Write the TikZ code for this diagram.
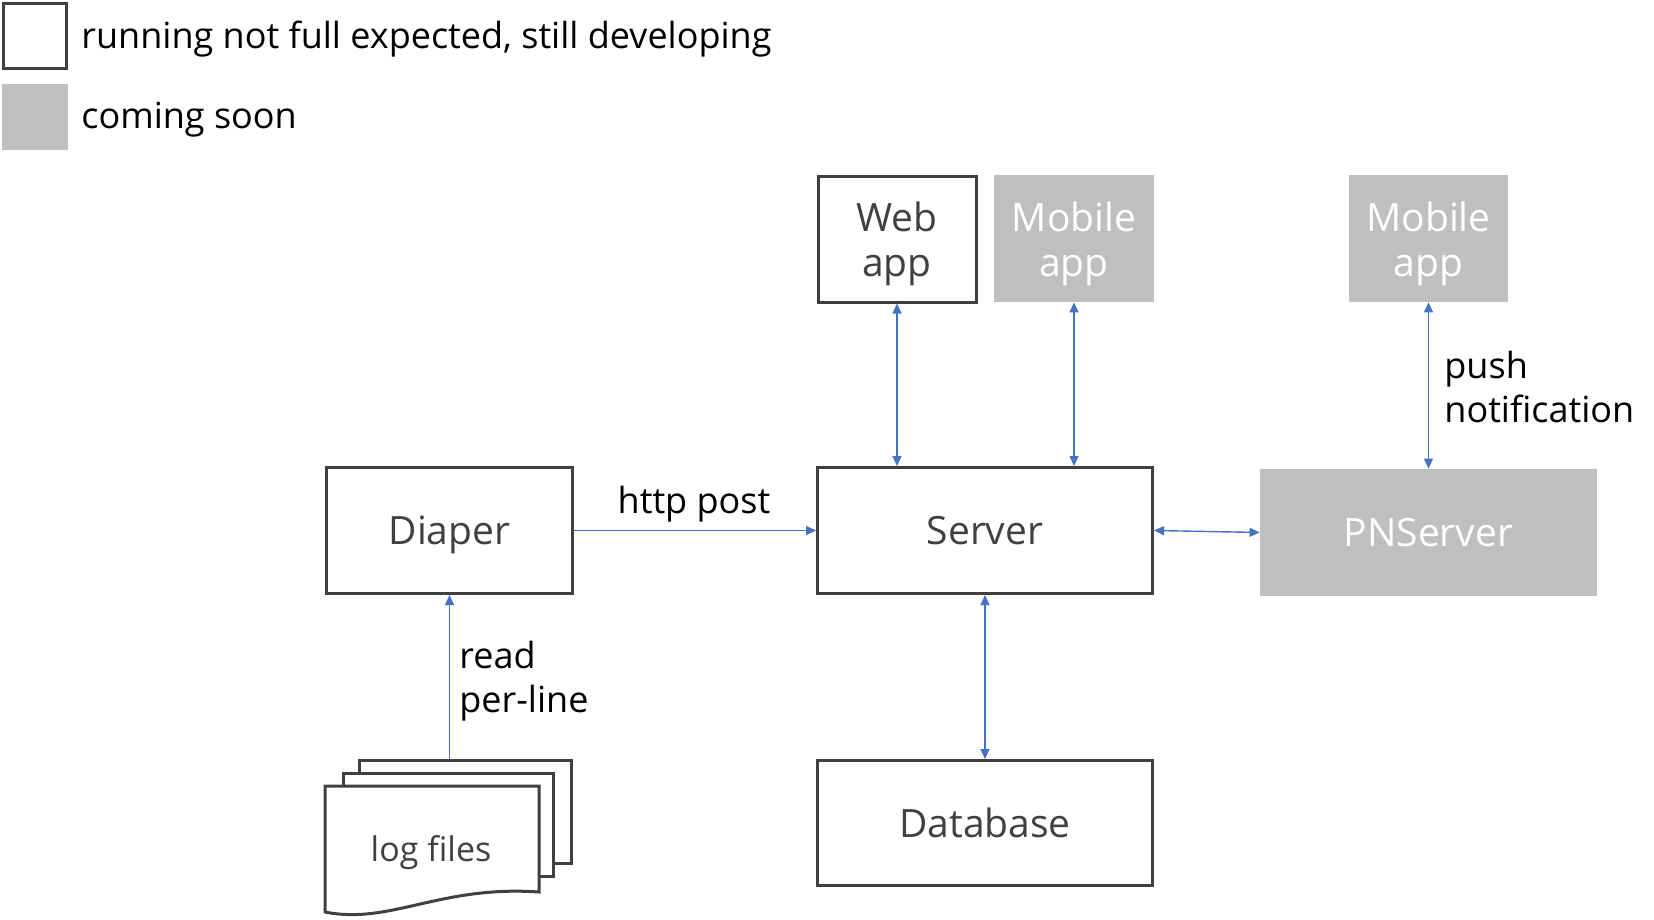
\documentclass[tikz,border=0pt]{standalone}
\usepackage{fontspec}
\setmainfont{Open Sans}
\usetikzlibrary{arrows.meta}
\definecolor{boxline}{HTML}{404040}
\definecolor{soongray}{HTML}{BFBFBF}
\definecolor{linkblue}{HTML}{4472C4}
\newcommand{\toplift}{\rule{0pt}{20pt}}
\tikzset{
  running/.style={draw=boxline, line width=1.5pt, fill=white, text=boxline,
    align=center, inner sep=0pt, font=\fontsize{19.5}{22.5}\selectfont},
  soon/.style={fill=soongray, text=white, align=center, inner sep=0pt,
    font=\fontsize{19.5}{22.5}\selectfont},
  oneline/.style={text height=18pt, text depth=4pt},
  sheet/.style={draw=boxline, line width=1.5pt, fill=white, inner sep=0pt},
  lbl/.style={align=left, inner sep=0pt, font=\fontsize{18}{22}\selectfont},
  link/.style={linkblue, line width=0.7pt, -{Triangle[length=5pt,width=4.5pt]}},
  both/.style={linkblue, line width=0.7pt,
    {Triangle[length=5pt,width=4.5pt]}-{Triangle[length=5pt,width=4.5pt]}}
}
\begin{document}
\begin{tikzpicture}[x=0.5pt,y=-0.5pt]
  \useasboundingbox (0,0) rectangle (1654,920);
  % legend
  \node[running, minimum width=31.5pt, minimum height=32.5pt] (keyrun) at (35,36) {};
  \node[lbl, anchor=west] (keyruntext) at (81,39) {running not full expected, still developing};
  \node[soon, minimum width=33pt, minimum height=33pt] (keysoon) at (35,117) {};
  \node[lbl, anchor=west] (keysoontext) at (81,120) {coming soon};
  % clients
  \node[running, minimum width=79pt, minimum height=63pt] (web) at (897,239) {\toplift Web\\app};
  \node[soon, minimum width=80pt, minimum height=63.5pt] (mobA) at (1074,238.5) {\toplift Mobile\\app};
  \node[soon, minimum width=79.5pt, minimum height=63.5pt] (mobB) at (1428.5,238.5) {\toplift Mobile\\app};
  % servers
  \node[running, oneline, minimum width=123pt, minimum height=63pt] (diaper) at (449.5,530.5) {Diaper};
  \node[running, oneline, minimum width=167.5pt, minimum height=63pt] (server) at (985,530.5) {Server};
  \node[soon, oneline, minimum width=168.5pt, minimum height=63.5pt] (pns) at (1428.5,532.5) {PNServer};
  \node[running, oneline, minimum width=167.5pt, minimum height=62.5pt] (db) at (985,823) {Database};
  % log files
  \node[sheet, minimum width=106pt, minimum height=51.5pt] (logC) at (465.5,812) {};
  \node[sheet, minimum width=105pt, minimum height=51.5pt] (logB) at (448.5,825) {};
  \draw[sheet] (325,786) -- (539,786) -- (539,892)
    .. controls (440,885) and (390,925) .. (325,912) -- cycle;
  \node[text=boxline, font=\fontsize{17}{20}\selectfont] (logfiles) at (431,853) {log files};
  % connectors
  \draw[link] (diaper.south |- logC.north) -- (diaper.south);
  \draw[link] (diaper.east) -- (server.west);
  \draw[both] (server.east) -- (pns.west);
  \draw[both] (web.south) -- (web.south |- server.north);
  \draw[both] (mobA.south) -- (mobA.south |- server.north);
  \draw[both] (mobB.south) -- (pns.north);
  \draw[both] (server.south) -- (db.north);
  % labels
  \node[lbl] (httplbl) at (694,504) {http post};
  \node[lbl, anchor=west] (readlbl) at (459,681) {read\\per-line};
  \node[lbl, anchor=west] (pushlbl) at (1444,387) {push\\notification};
\end{tikzpicture}
\end{document}
